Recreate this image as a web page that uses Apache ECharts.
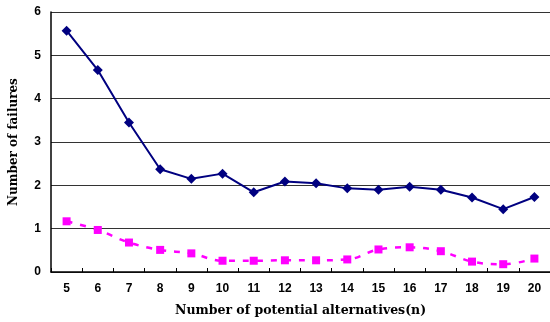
<!DOCTYPE html>
<html><head><meta charset="utf-8">
<script src="https://cdn.jsdelivr.net/npm/echarts@6/dist/echarts.min.js"></script>
<style>html,body{margin:0;padding:0;background:#fff}#c{width:550px;height:322px}</style>
</head><body><div id="c"></div>
<script>
const categories = ['5','6','7','8','9','10','11','12','13','14','15','16','17','18','19','20'];
const seriesA = [5.57,4.66,3.45,2.37,2.15,2.27,1.84,2.09,2.05,1.93,1.90,1.97,1.90,1.72,1.45,1.73];
const seriesB = [1.17,0.97,0.68,0.51,0.43,0.26,0.26,0.27,0.27,0.29,0.52,0.57,0.48,0.24,0.18,0.31];
const yTitle = 'Number of failures';
const xTitle = 'Number of potential alternatives(n)';

const chart = echarts.init(document.getElementById('c'), null, {renderer:'canvas'});
const labelFont = {fontFamily:'Liberation Sans, Arial, sans-serif', fontWeight:'bold', fontSize:12, color:'#000'};
chart.setOption({
  animation:false,
  grid:{left:47, top:12, width:506, height:264, containLabel:false},
  xAxis:{
    type:'category', data:categories, boundaryGap:true,
    axisLine:{lineStyle:{color:'#000', width:1.5}},
    axisTick:{show:true, inside:true, length:4, lineStyle:{color:'#000'}},
    axisLabel:Object.assign({margin:11}, labelFont),
    name:xTitle, nameLocation:'middle', nameGap:32,
    nameTextStyle:{fontFamily:'DejaVu Serif, serif', fontWeight:'bold', fontSize:12.5, color:'#000'}
  },
  yAxis:{
    type:'value', min:0, max:6, interval:1,
    axisLine:{show:true, lineStyle:{color:'#000', width:1.5}},
    axisTick:{show:false},
    axisLabel:Object.assign({margin:10}, labelFont),
    splitLine:{lineStyle:{color:'#333', width:1}},
    name:yTitle, nameLocation:'middle', nameGap:31, nameRotate:90,
    nameTextStyle:{fontFamily:'DejaVu Serif, serif', fontWeight:'bold', fontSize:12, color:'#000'}
  },
  series:[
    {type:'line', data:seriesA, symbol:'diamond', symbolSize:10,
     lineStyle:{color:'#000080', width:2}, itemStyle:{color:'#000080'}},
    {type:'line', data:seriesB, symbol:'rect', symbolSize:8, smooth:0.4,
     lineStyle:{color:'#ff00ff', width:2.5, type:[6,8]}, itemStyle:{color:'#ff00ff'}}
  ]
});
</script></body></html>
